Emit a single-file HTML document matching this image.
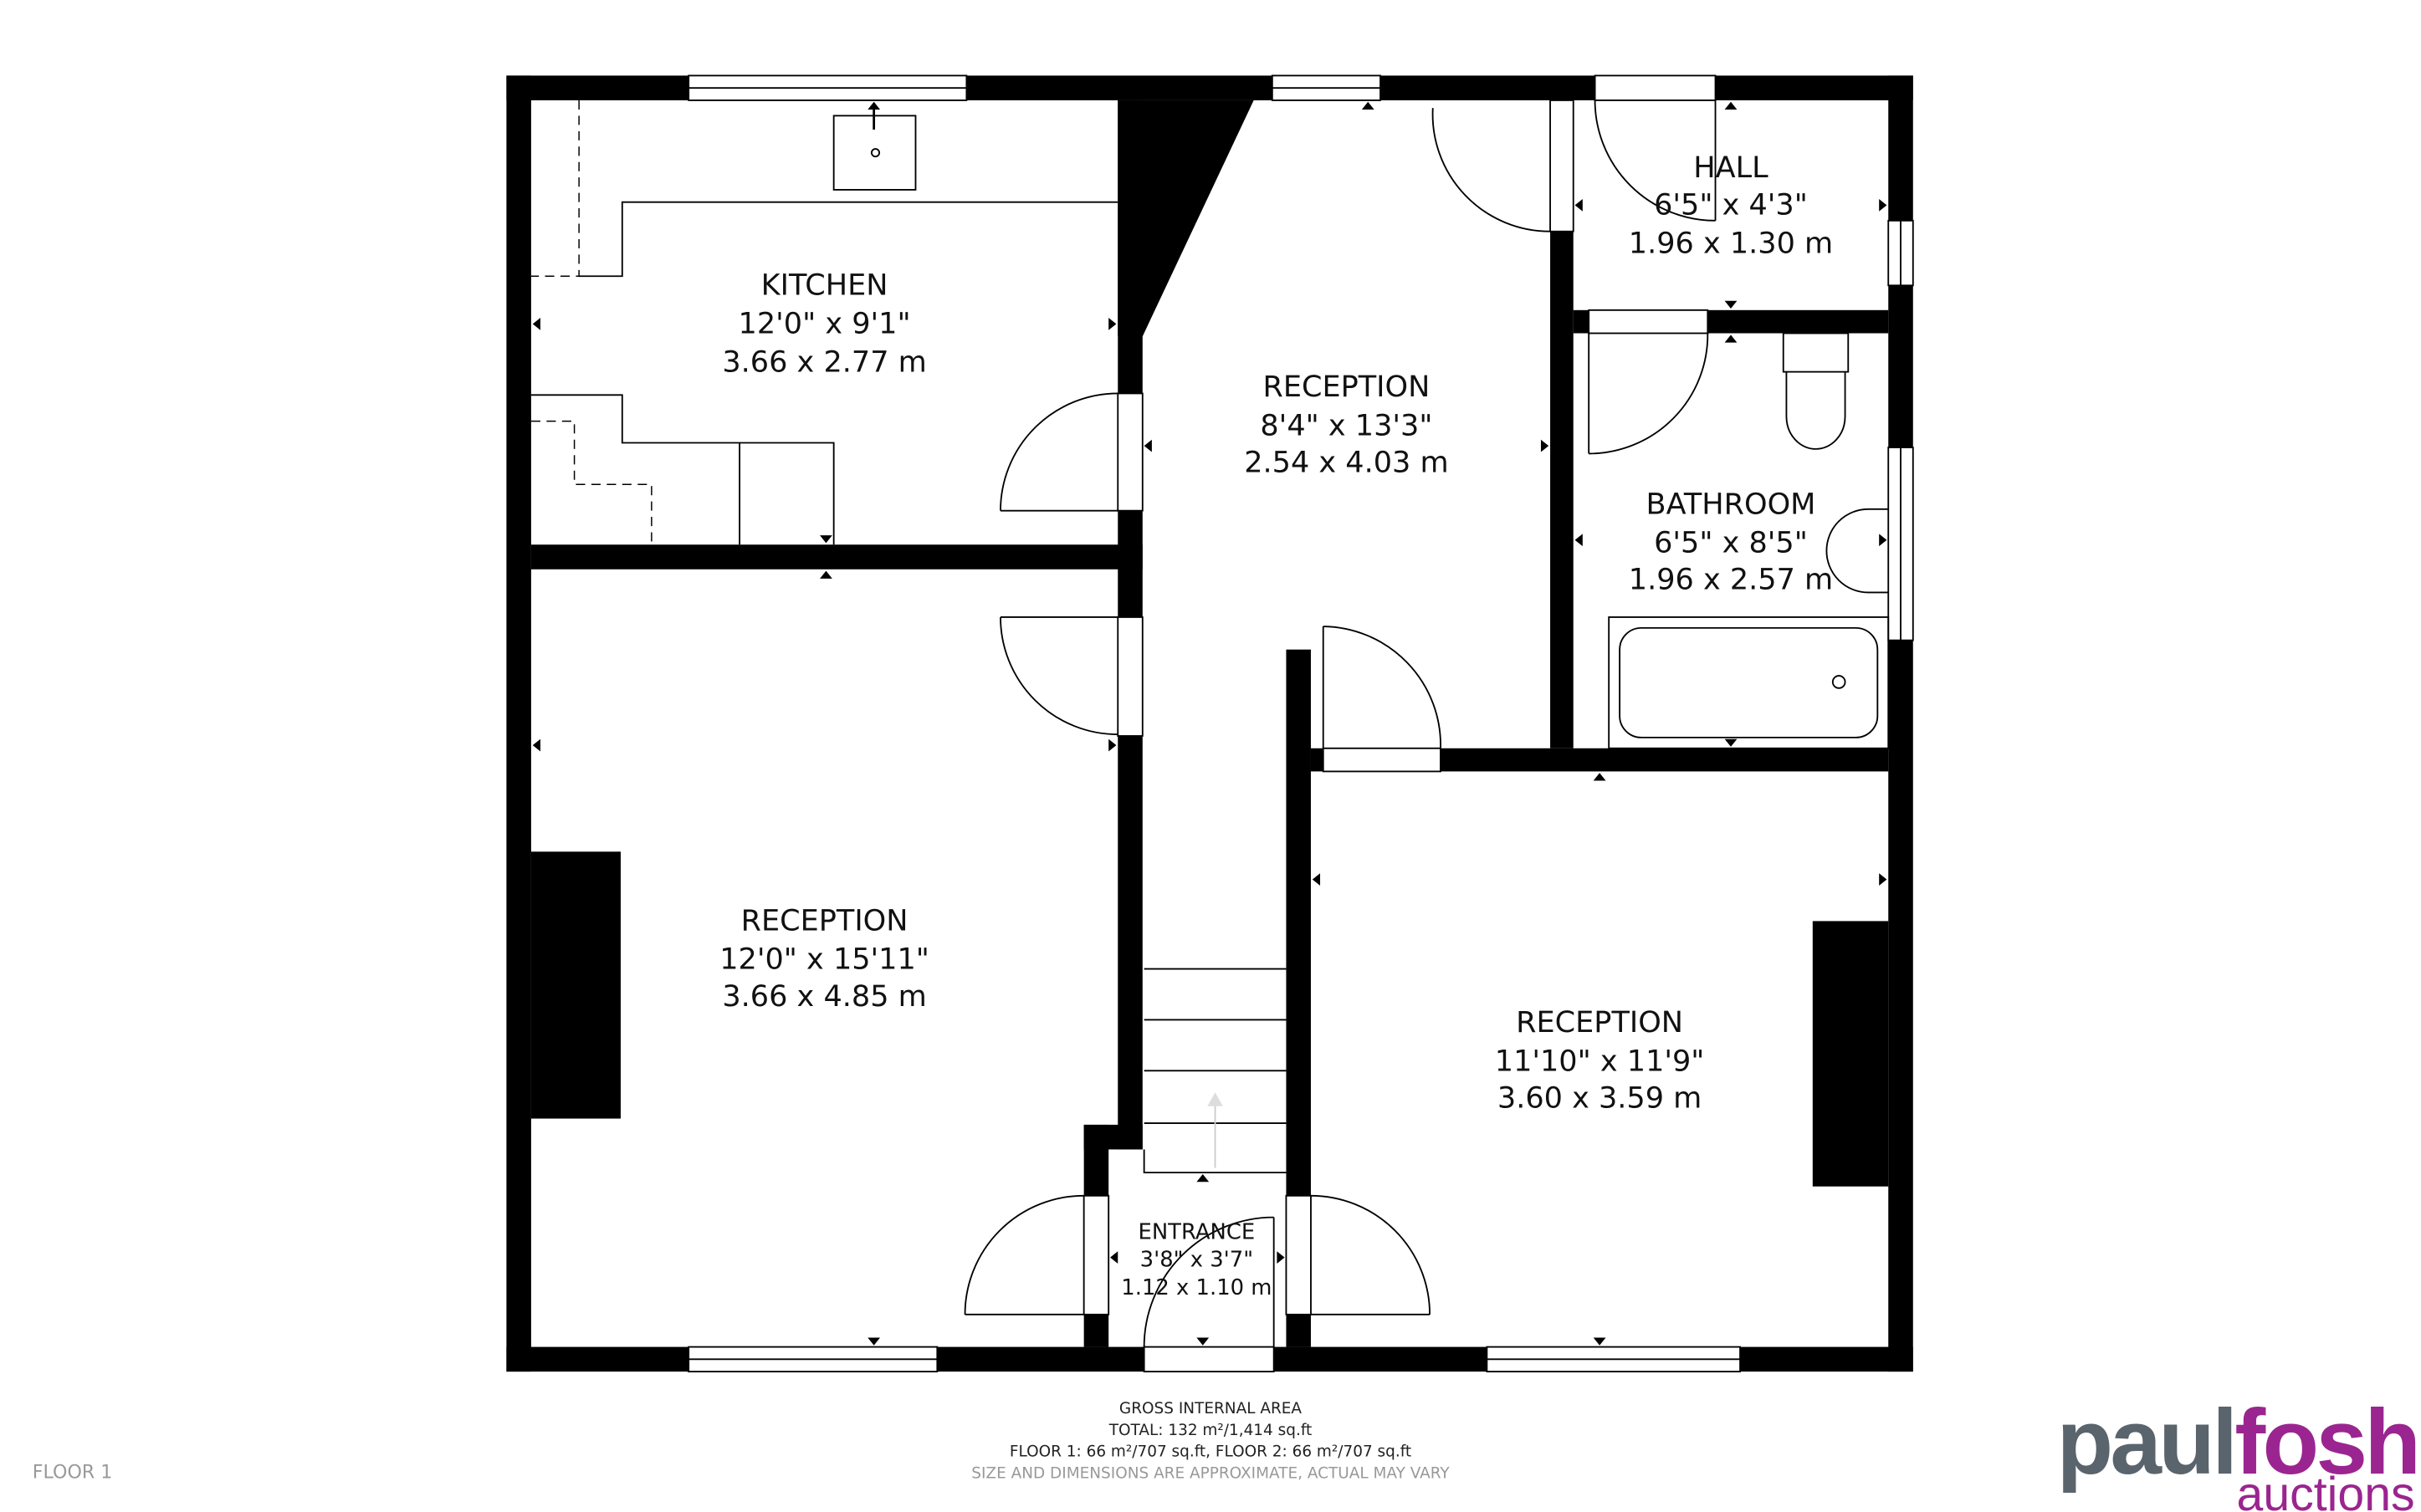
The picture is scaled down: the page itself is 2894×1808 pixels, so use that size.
<!DOCTYPE html>
<html><head><meta charset="utf-8"><style>
html,body{margin:0;padding:0;background:#fff;}
svg{display:block;}
text{font-family:"DejaVu Sans","Liberation Sans",sans-serif;}
</style></head><body>
<svg width="2894" height="1808" viewBox="0 0 1568 980" preserveAspectRatio="none" xmlns="http://www.w3.org/2000/svg">
<rect width="1568" height="980" fill="#fff"/>
<g fill="#000">
<rect x="328" y="49" width="911" height="16"/>
<rect x="328" y="873" width="911" height="16"/>
<rect x="328" y="49" width="16" height="840"/>
<rect x="1223" y="49" width="16" height="840"/>
<rect x="344" y="353" width="396" height="16"/>
<rect x="724" y="65" width="16" height="680"/>
<polygon points="724,65 812,65 740,218 724,218"/>
<rect x="702" y="729" width="38" height="16"/>
<rect x="702" y="729" width="16" height="144"/>
<rect x="833" y="421" width="16" height="452"/>
<rect x="849" y="485" width="374" height="15"/>
<rect x="1004" y="65" width="15" height="420"/>
<rect x="1019" y="201" width="204" height="15"/>
<rect x="344" y="552" width="58" height="173"/>
<rect x="1174" y="597" width="49" height="172"/>
</g>
<g fill="#fff" stroke="#000" stroke-width="1">
<rect x="446" y="49" width="180" height="16"/><line x1="446" y1="57" x2="626" y2="57"/>
<rect x="824" y="49" width="70" height="16"/><line x1="824" y1="57" x2="894" y2="57"/>
<rect x="1033" y="49" width="78" height="16"/>
<rect x="1223" y="143" width="16" height="42"/><line x1="1231" y1="143" x2="1231" y2="185"/>
<rect x="1223" y="290" width="16" height="125"/><line x1="1231" y1="290" x2="1231" y2="415"/>
<rect x="446" y="873" width="161" height="16"/><line x1="446" y1="881" x2="607" y2="881"/>
<rect x="963" y="873" width="164" height="16"/><line x1="963" y1="881" x2="1127" y2="881"/>
<rect x="741" y="873" width="84" height="16"/>
<rect x="724" y="255" width="16" height="76"/>
<rect x="724" y="400" width="16" height="77"/>
<rect x="702" y="775" width="16" height="77"/>
<rect x="833" y="775" width="16" height="77"/>
<rect x="857" y="485" width="76" height="15"/>
<rect x="1004" y="65" width="15" height="85"/>
<rect x="1029" y="201" width="77" height="15"/>
</g>
<g fill="none" stroke="#000" stroke-width="1">
<line x1="648" y1="331" x2="724" y2="331"/><path d="M648,331 A76,76 0 0 1 724,255"/>
<line x1="648" y1="400" x2="724" y2="400"/><path d="M648,400 A76,76 0 0 0 724,476"/>
<line x1="625" y1="852" x2="702" y2="852"/><path d="M625,852 A77,77 0 0 1 702,775"/>
<line x1="849" y1="852" x2="926" y2="852"/><path d="M926,852 A77,77 0 0 0 849,775"/>
<line x1="825" y1="789" x2="825" y2="873"/><path d="M825,789 A84,84 0 0 0 741,873"/>
<line x1="857" y1="406" x2="857" y2="485"/><path d="M857,406 A77,77 0 0 1 933,485"/>
<path d="M928,70 A76,76 0 0 0 1004,150"/>
<line x1="1111" y1="65" x2="1111" y2="143"/><path d="M1033,65 A78,78 0 0 0 1111,143"/>
<line x1="1029" y1="216" x2="1029" y2="294"/><path d="M1029,294 A77,77 0 0 0 1106,216"/>
<rect x="540" y="75" width="53" height="48"/>
<polyline points="724,131 403,131 403,179 375,179"/>
<polyline points="344,256 403,256 403,287 540,287 540,353"/>
<line x1="479" y1="287" x2="479" y2="353"/>
<line x1="741" y1="628" x2="833" y2="628"/>
<line x1="741" y1="661" x2="833" y2="661"/>
<line x1="741" y1="694" x2="833" y2="694"/>
<line x1="741" y1="728" x2="833" y2="728"/>
<polyline points="741,745 741,760 833,760"/>
<rect x="1155" y="216" width="42" height="25"/>
<path d="M1157,241 L1157,270 A19,21 0 0 0 1195,270 L1195,241"/>
<path d="M1223,330 L1210,330 A27,27 0 1 0 1210,384 L1223,384"/>
<rect x="1042" y="400" width="181" height="85"/>
<rect x="1049" y="407" width="167" height="71" rx="14"/>
<circle cx="1191" cy="442" r="4"/>
</g>
<g fill="none" stroke="#000" stroke-width="0.8" stroke-dasharray="6,4">
<polyline points="375,65 375,179 344,179"/>
<polyline points="344,273 372,273 372,314 422,314 422,353"/>
</g>
<circle cx="567" cy="99" r="2.5" fill="none" stroke="#000"/>
<line x1="566" y1="71" x2="566" y2="84" stroke="#000" stroke-width="1.5"/>
<line x1="787" y1="757" x2="787" y2="714" stroke="#ccc"/>
<polygon points="787,708 782,717 792,717" fill="#ddd"/>
<g fill="#000">
<polygon points="886,66 882,71 890,71"/><polygon points="566,66 562,71 570,71"/>
<polygon points="535,352 531,347 539,347"/><polygon points="535,370 531,375 539,375"/>
<polygon points="345,210 350,206 350,214"/><polygon points="723,210 718,206 718,214"/>
<polygon points="741,289 746,285 746,293"/><polygon points="1003,289 998,285 998,293"/>
<polygon points="345,483 350,479 350,487"/><polygon points="723,483 718,479 718,487"/>
<polygon points="566,872 562,867 570,867"/>
<polygon points="1036,501 1032,506 1040,506"/><polygon points="1036,872 1032,867 1040,867"/>
<polygon points="850,570 855,566 855,574"/><polygon points="1222,570 1217,566 1217,574"/>
<polygon points="1121,66 1117,71 1125,71"/><polygon points="1121,200 1117,195 1125,195"/>
<polygon points="1020,133 1025,129 1025,137"/><polygon points="1222,133 1217,129 1217,137"/>
<polygon points="1121,217 1117,222 1125,222"/><polygon points="1121,484 1117,479 1125,479"/>
<polygon points="1020,350 1025,346 1025,354"/><polygon points="1222,350 1217,346 1217,354"/>
<polygon points="719,815 724,811 724,819"/><polygon points="832,815 827,811 827,819"/>
<polygon points="779,761 775,766 783,766"/><polygon points="779,872 775,867 783,867"/>
</g>
<g font-size="19" text-anchor="middle" fill="#111">
<text x="534" y="191">KITCHEN</text><text x="534" y="216">12'0" x 9'1"</text><text x="534" y="241">3.66 x 2.77 m</text>
<text x="872" y="257">RECEPTION</text><text x="872" y="282">8'4" x 13'3"</text><text x="872" y="306">2.54 x 4.03 m</text>
<text x="1121" y="115">HALL</text><text x="1121" y="139">6'5" x 4'3"</text><text x="1121" y="164">1.96 x 1.30 m</text>
<text x="1121" y="333">BATHROOM</text><text x="1121" y="358">6'5" x 8'5"</text><text x="1121" y="382">1.96 x 2.57 m</text>
<text x="534" y="603">RECEPTION</text><text x="534" y="628">12'0" x 15'11"</text><text x="534" y="652">3.66 x 4.85 m</text>
<text x="1036" y="669">RECEPTION</text><text x="1036" y="694">11'10" x 11'9"</text><text x="1036" y="718">3.60 x 3.59 m</text>
</g>
<g font-size="14" text-anchor="middle" fill="#111">
<text x="775" y="803">ENTRANCE</text><text x="775" y="821">3'8" x 3'7"</text><text x="775" y="839">1.12 x 1.10 m</text>
</g>
<g font-size="10" text-anchor="middle" fill="#222">
<text x="784" y="916">GROSS INTERNAL AREA</text>
<text x="784" y="930">TOTAL: 132 m²/1,414 sq.ft</text>
<text x="784" y="944">FLOOR 1: 66 m²/707 sq.ft, FLOOR 2: 66 m²/707 sq.ft</text>
<text x="784" y="958" fill="#999">SIZE AND DIMENSIONS ARE APPROXIMATE, ACTUAL MAY VARY</text>
</g>
<text x="21" y="958" font-size="12" fill="#999">FLOOR 1</text>
<text x="1566" y="955" font-size="60" font-weight="bold" text-anchor="end" style="font-family:'Liberation Sans',sans-serif;letter-spacing:-2px"><tspan fill="#5a646d">paul</tspan><tspan fill="#9b2590">fosh</tspan></text>
<text x="1564" y="979" font-size="31" text-anchor="end" fill="#9b2590" style="font-family:'Liberation Sans',sans-serif">auctions</text>
</svg>
</body></html>
